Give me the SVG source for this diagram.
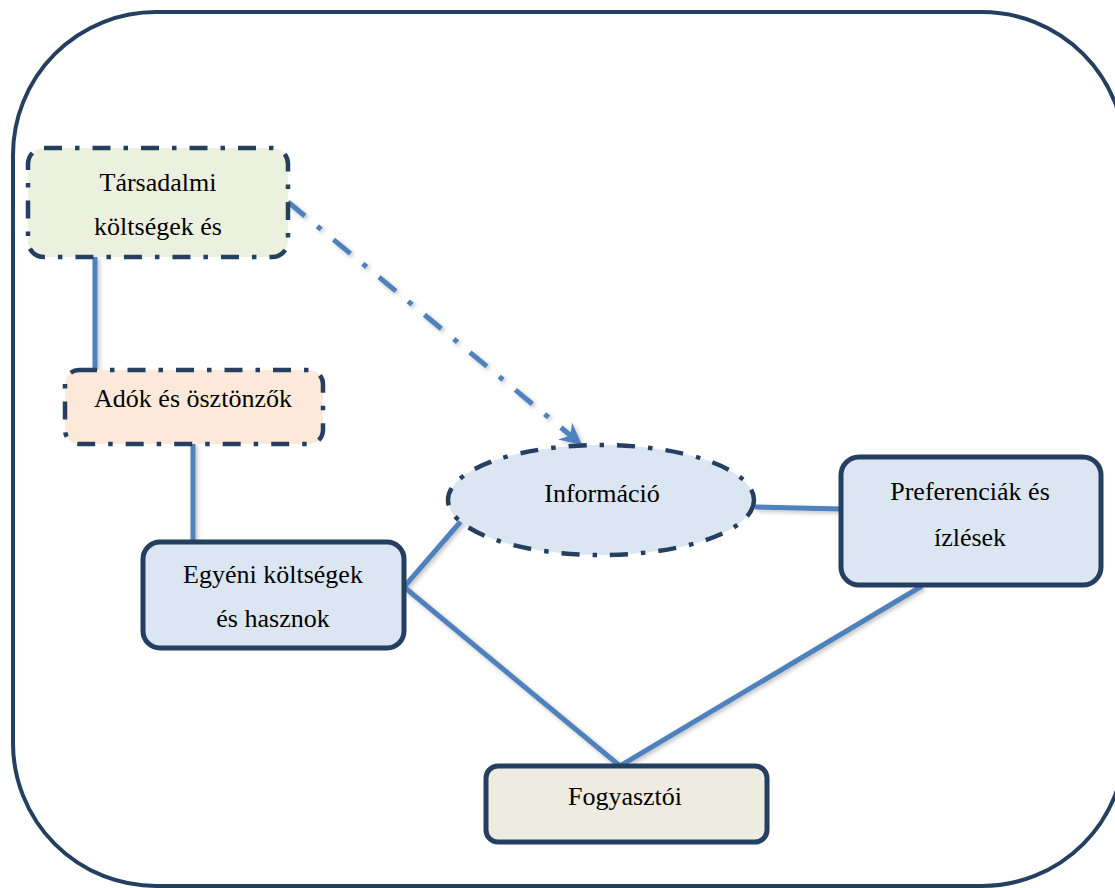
<svg xmlns="http://www.w3.org/2000/svg" width="1115" height="888" viewBox="0 0 1115 888">
  <defs>
    <style>
      .frame{fill:#fff;stroke:#243F60;stroke-width:4}
      .node{stroke:#243F60;stroke-width:5}
      .dd{stroke:#243F60;stroke-width:4.5;stroke-dasharray:18 13 4.5 13}
      .lbl{font-family:"Liberation Serif","Times New Roman",serif;font-size:26px;fill:#000;text-anchor:middle}
      .conn{fill:none;stroke:#4F81BD;stroke-width:5}
      .ddconn{fill:none;stroke:#4F81BD;stroke-width:5;stroke-dasharray:22 16 5 16}
    </style>
    <filter id="sh" x="-20%" y="-20%" width="140%" height="140%">
      <feDropShadow dx="2" dy="2" stdDeviation="2" flood-color="#000" flood-opacity="0.25"/>
    </filter>
    <marker id="arr" viewBox="0 0 22 22" refX="22" refY="11" markerWidth="22" markerHeight="22" markerUnits="userSpaceOnUse" orient="auto">
      <path d="M0,0 L22,11 L0,22 L7,11 z" fill="#4F81BD"/>
    </marker>
  </defs>

  <rect class="frame" x="13" y="12" width="1112" height="874" rx="143" ry="143"/>

  <g id="connectors" filter="url(#sh)">
    <line class="conn" x1="95" y1="257" x2="95" y2="370"/>
    <line class="conn" x1="193" y1="444" x2="193" y2="542"/>
    <polyline class="conn" points="462,520 404,587 620,766 922,586"/>
    <line class="conn" x1="755" y1="507" x2="841" y2="509"/>
    <line class="ddconn" x1="288" y1="202" x2="582" y2="445" marker-end="url(#arr)"/>
  </g>

  <g id="tarsadalmi">
    <rect class="dd" x="28" y="148" width="260" height="109" rx="16" fill="#EBF1DE"/>
    <text class="lbl" x="158" y="191">Társadalmi</text>
    <text class="lbl" x="158" y="235">költségek és</text>
  </g>

  <g id="adok">
    <rect class="dd" x="65" y="370" width="258" height="74" rx="14" fill="#FDE9D9"/>
    <text class="lbl" x="193" y="407">Adók és ösztönzők</text>
  </g>

  <g id="egyeni">
    <rect class="node" x="143" y="542" width="261" height="106" rx="17" fill="#DCE6F2"/>
    <text class="lbl" x="273" y="583">Egyéni költségek</text>
    <text class="lbl" x="273" y="627">és hasznok</text>
  </g>

  <g id="informacio">
    <ellipse class="dd" cx="601" cy="500" rx="153" ry="55" fill="#DCE6F2"/>
    <text class="lbl" x="602" y="502">Információ</text>
  </g>

  <g id="preferenciak">
    <rect class="node" x="841" y="457" width="260" height="128" rx="18" fill="#DCE6F2"/>
    <text class="lbl" x="970" y="500">Preferenciák és</text>
    <text class="lbl" x="970" y="546">ízlések</text>
  </g>

  <g id="fogyasztoi">
    <rect class="node" x="486" y="766" width="281" height="76" rx="12" fill="#EEECE1"/>
    <text class="lbl" x="625" y="805">Fogyasztói</text>
  </g>
</svg>
